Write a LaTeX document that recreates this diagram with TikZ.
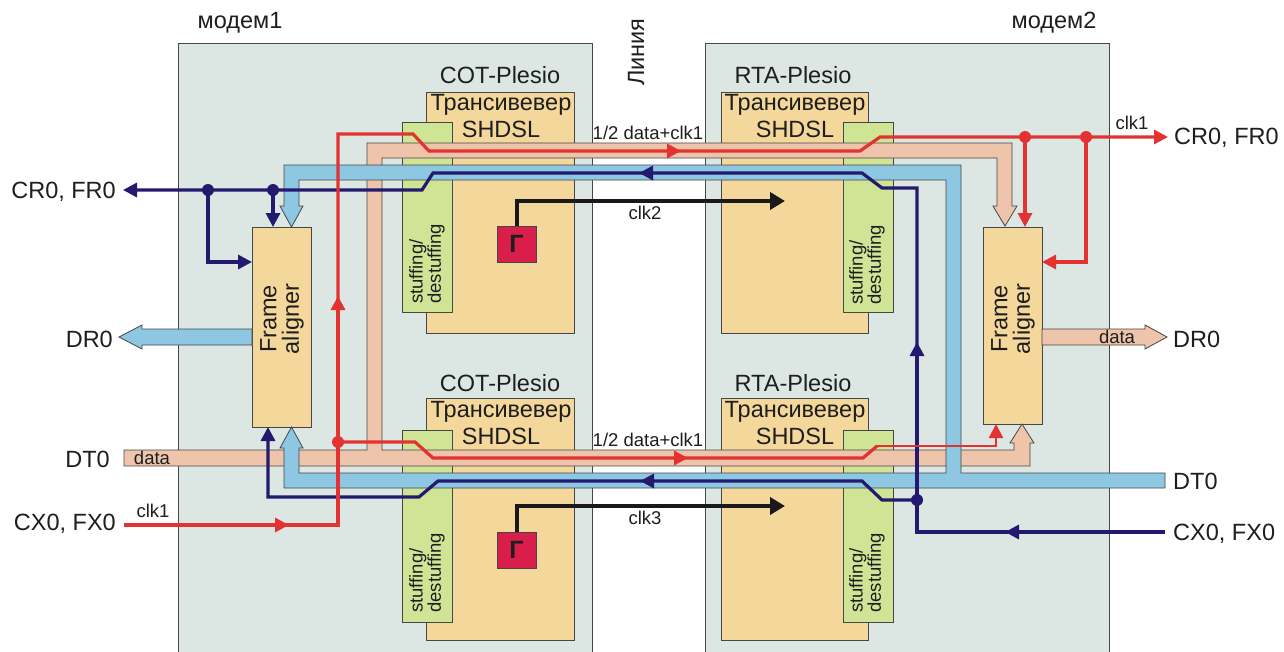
\documentclass[tikz,border=0pt]{standalone}
\usepackage{fontspec}
\setmainfont{Liberation Sans}
\usetikzlibrary{arrows.meta,calc}
\definecolor{modembg}{RGB}{220,231,227}
\definecolor{orangebox}{RGB}{244,215,154}
\definecolor{greenbox}{RGB}{208,228,150}
\definecolor{salmon}{RGB}{238,196,170}
\definecolor{bandblue}{RGB}{142,199,225}
\definecolor{redline}{RGB}{226,50,50}
\definecolor{navyline}{RGB}{35,25,110}
\definecolor{genred}{RGB}{218,30,75}
\definecolor{edgegray}{RGB}{70,70,70}
\definecolor{txt}{RGB}{30,30,30}
\begin{document}
\begin{tikzpicture}[x=1pt,y=-1pt,
  >={Triangle[length=14pt,width=14pt]},
  box/.style={draw=edgegray, line width=0.8pt, inner sep=0pt, outer sep=0pt, anchor=north west},
  modembox/.style={box, fill=modembg, minimum width=414pt, minimum height=640pt},
  trxbox/.style={box, fill=orangebox, minimum height=242pt},
  stufbox/.style={box, fill=greenbox, minimum width=50pt, minimum height=191pt},
  alignbox/.style={box, fill=orangebox, minimum width=59pt, minimum height=199pt},
  genbox/.style={box, fill=genred, minimum width=39pt, minimum height=36pt},
  band/.style={draw=edgegray, line width=0.8pt},
  redl/.style={draw=redline, line width=3.2pt},
  redthin/.style={draw=redline, line width=2.2pt},
  navyl/.style={draw=navyline, line width=3.2pt},
  clkl/.style={draw=black!90, line width=4pt},
  rdot/.style={circle, fill=redline, inner sep=0pt, minimum size=12pt},
  ndot/.style={circle, fill=navyline, inner sep=0pt, minimum size=12pt},
  lbl/.style={font=\fontsize{23.5}{28}\selectfont, text=txt, inner sep=0pt},
  sml/.style={font=\fontsize{18.5}{22}\selectfont, text=txt, inner sep=0pt},
  rot/.style={font=\fontsize{23.5}{22.5}\selectfont, text=txt, inner sep=0pt, rotate=90, align=center},
  stuf/.style={font=\fontsize{18.5}{16.5}\selectfont, text=txt, inner sep=0pt, rotate=90, align=left, anchor=west}
]
\useasboundingbox (0,0) rectangle (1284,651);
\clip (0,0) rectangle (1284,651);
\fill[white] (0,0) rectangle (1284,651);

% modems
\node[modembox] (m1) at (178,43) {};
\node[modembox, minimum width=404pt] (m2) at (705,43) {};

% transceivers
\node[trxbox, minimum width=148pt, minimum height=241pt] (t1) at (426,92) {};
\node[trxbox, minimum width=148pt] (t2) at (426,398) {};
\node[trxbox, minimum width=147pt, minimum height=241pt] (t3) at (721,92) {};
\node[trxbox, minimum width=147pt] (t4) at (721,398) {};
\node[stufbox, minimum height=190pt] (s1) at (402,122) {};
\node[stufbox, minimum height=192pt] (s2) at (402,430) {};
\node[stufbox, minimum height=190pt] (s3) at (843,122) {};
\node[stufbox, minimum height=192pt] (s4) at (843,430) {};

% generators
\node[genbox] (g1) at (497,226) {};
\node[genbox] (g2) at (497,532) {};
\node[lbl, font=\fontsize{25}{28}\selectfont\bfseries] (g1t) at (g1.center) {Г};
\node[lbl, font=\fontsize{25}{28}\selectfont\bfseries] (g2t) at (g2.center) {Г};
\coordinate (c2end) at (785,201);
\coordinate (c3end) at (785,506);
\draw[clkl,-{Triangle[length=15pt,width=17pt]}] (g1.north) |- (c2end);
\draw[clkl,-{Triangle[length=15pt,width=17pt]}] (g2.north) |- (c3end);

% aligners
\node[alignbox, minimum height=200pt] (al1) at (252,227) {};
\node[alignbox, minimum height=197pt] (al2) at (983,227) {};

% salmon band
\draw[band, fill=salmon] (124,450) -- (367,450) -- (367,143) -- (1012,143) -- (1012,206) -- (1017,206) -- (1005,226) -- (993,206) -- (997,206) -- (997,158) -- (382,158) -- (382,450) -- (1014,450) -- (1014,443) -- (1010,443) -- (1022,424) -- (1034,443) -- (1030,443) -- (1030,466) -- (124,466) -- cycle;
% blue band
\draw[band, fill=bandblue] (1165,473) -- (961,473) -- (961,165) -- (284,165) -- (284,206) -- (280,206) -- (291.5,227) -- (303,206) -- (299,206) -- (299,180) -- (946,180) -- (946,473) -- (299,473) -- (299,448) -- (303,448) -- (291.5,427) -- (280,448) -- (284,448) -- (284,488) -- (1165,488) -- cycle;
% DR0 arrows
\draw[band, fill=bandblue] (252,329) -- (142,329) -- (142,325) -- (119,337) -- (142,349) -- (142,345) -- (252,345) -- cycle;
\draw[band, fill=salmon] (1042,329) -- (1145,329) -- (1145,325) -- (1167,337) -- (1145,349) -- (1145,345) -- (1042,345) -- cycle;

% navy lines
\coordinate (nin) at (1165,532);
\coordinate (nout) at (123,190);
\node[ndot] (nd0) at (917,500) {};
\node[ndot] (nd1) at (273,190) {};
\node[ndot] (nd2) at (208,190) {};
\draw[navyl,->] (nd0.center) -- (917,342);
\draw[navyl,->] (917,346) -- (917,188) -- (882,188) -- (862,173) -- (639,173);
\draw[navyl,->] (643,173) -- (433,173) -- (422,190) -- (nout);
\draw[navyl,->] (nd1.center) -- (nd1 |- al1.north);
\draw[navyl,->] (nd2.center) |- (al1.west |- 0,262);
\draw[navyl,->] (nin) -- (1005,532);
\draw[navyl] (1008,532) -| (nd0.center);
\draw[navyl,->] (nd0.center) -- (882,500) -- (862,481) -- (640,481);
\draw[navyl,->] (643,481) -- (438,481) -- (419,497) -- (268,497) -- (268,427);

% red lines
\coordinate (rin) at (124,525);
\coordinate (rout) at (1168,137);
\coordinate (rturn) at (996,446);
\node[rdot] (rd0) at (338,442) {};
\node[rdot] (rd1) at (1025,137) {};
\node[rdot] (rd2) at (1086,137) {};
\draw[redl,->] (rin) -- (289,525);
\draw[redl] (285,525) -| (rd0.center);
\draw[redl,->] (rd0.center) -- (338,296);
\draw[redl,->] (338,300) |- (413,134) -- (429,151) -- (681,151);
\draw[redl,->] (677,151) -- (860,151) -- (880,137) -- (rout);
\draw[redl,->] (rd1.center) -- (rd1 |- al2.north);
\draw[redl,->] (rd2.center) |- (al2.east |- 0,262);
\draw[redl,->] (rd0.center) -- (415,442) -- (433,458) -- (688,458);
\draw[redl] (684,458) -- (863,458) -- (877,446);
\draw[redthin,->] (876,446) -- (rturn) -- (rturn |- al2.south);

% texts
\node[lbl] (tm1) at (240,23) {модем1};
\node[lbl] (tm2) at (1054,23) {модем2};
\node[lbl, rotate=90] (tline) at (636,52) {Линия};
\node[lbl] (tc1) at (500,75) {COT-Plesio};
\node[lbl] (tc2) at (500,383) {COT-Plesio};
\node[lbl] (tr1) at (793,75) {RTA-Plesio};
\node[lbl] (tr2) at (793,383) {RTA-Plesio};
\node[lbl, align=center, font=\fontsize{23.5}{27}\selectfont] (tx1) at (501,116) {Трансивевер\\SHDSL};
\node[lbl, align=center, font=\fontsize{23.5}{27}\selectfont] (tx2) at (501,423) {Трансивевер\\SHDSL};
\node[lbl, align=center, font=\fontsize{23.5}{27}\selectfont] (tx3) at (795,116) {Трансивевер\\SHDSL};
\node[lbl, align=center, font=\fontsize{23.5}{27}\selectfont] (tx4) at (795,423) {Трансивевер\\SHDSL};
\node[stuf] (st1) at (427,304) {stuffing/\\destuffing};
\node[stuf] (st2) at (427,613) {stuffing/\\destuffing};
\node[stuf] (st3) at (867,305) {stuffing/\\destuffing};
\node[stuf] (st4) at (867,613) {stuffing/\\destuffing};
\node[rot] (fa1) at (282,319) {Frame\\aligner};
\node[rot] (fa2) at (1013,319) {Frame\\aligner};
\node[sml] (d1) at (648,133) {1/2 data+clk1};
\node[sml] (d2) at (648,440) {1/2 data+clk1};
\node[sml] (k2) at (645,213) {clk2};
\node[sml] (k3) at (645,518) {clk3};
\node[sml] (k1l) at (153,511) {clk1};
\node[sml] (k1r) at (1132,123) {clk1};
\node[sml] (dl) at (152,458) {data};
\node[sml] (dr) at (1117,337) {data};
\node[lbl, anchor=east] (lcr) at (116,192) {CR0, FR0};
\node[lbl, anchor=east] (ldr) at (113,339) {DR0};
\node[lbl, anchor=east] (ldt) at (110,459) {DT0};
\node[lbl, anchor=east] (lcx) at (116,524) {CX0, FX0};
\node[lbl, anchor=west] (rcr) at (1174,138) {CR0, FR0};
\node[lbl, anchor=west] (rdr) at (1173,339) {DR0};
\node[lbl, anchor=west] (rdt) at (1173,481) {DT0};
\node[lbl, anchor=west] (rcx) at (1173,534) {CX0, FX0};
\end{tikzpicture}
\end{document}
